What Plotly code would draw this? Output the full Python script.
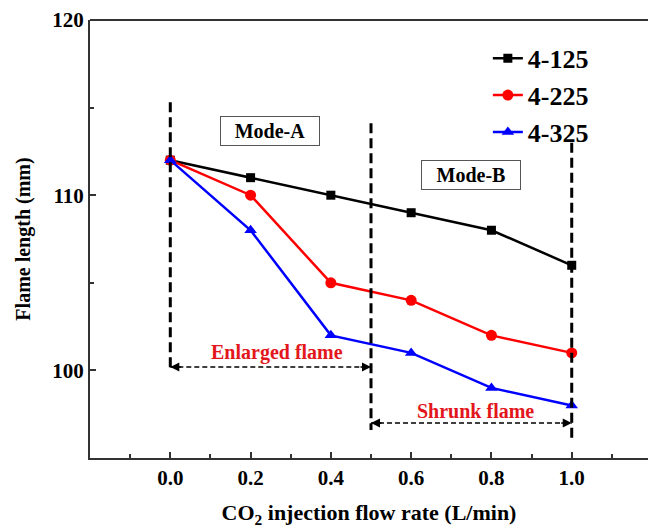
import plotly.graph_objects as go

flow = [0.0, 0.2, 0.4, 0.6, 0.8, 1.0]
s125 = [112, 111, 110, 109, 108, 106]
s225 = [112, 110, 105, 104, 102, 101]
s325 = [112, 108, 102, 101, 99, 98]
names = ["4-125", "4-225", "4-325"]
colors = ["#000000", "#ff0000", "#0000ff"]
symbols = ["square", "circle", "triangle-up"]
msizes = [9, 11, 11]

FONT = "Liberation Serif"
fig = go.Figure()
for i, ys in enumerate([s125, s225, s325]):
    fig.add_trace(go.Scatter(
        x=flow, y=ys, mode="lines+markers", name=names[i],
        line=dict(color=colors[i], width=2.5),
        marker=dict(symbol=symbols[i], size=msizes[i], color=colors[i]),
    ))

# vertical dashed dividers
vlines = [(0.0, 115.3, 100.0), (0.5, 114.1, 96.6), (1.0, 113.0, 96.1)]
for xv, y0, y1 in vlines:
    fig.add_shape(type="line", x0=xv, x1=xv, y0=y0, y1=y1, xref="x", yref="y",
                  line=dict(color="black", width=3, dash="10px,5px"))

# horizontal double arrows
harrows = [(0.0, 0.5, 100.2), (0.5, 1.0, 97.0)]
for xa, xb, yv in harrows:
    fig.add_shape(type="line", x0=xa, x1=xb, y0=yv, y1=yv, xref="x", yref="y",
                  line=dict(color="black", width=1.5, dash="5px,3px"))
    for tip, tail in [(xa, xa + 0.03), (xb, xb - 0.03)]:
        fig.add_annotation(x=tip, y=yv, ax=tail, ay=yv, xref="x", yref="y",
                           axref="x", ayref="y", text="", showarrow=True,
                           arrowhead=2, arrowsize=1.2, arrowwidth=1.5,
                           arrowcolor="black")

fig.add_annotation(x=0.265, y=101.0, text="<b>Enlarged flame</b>", showarrow=False,
                   font=dict(family=FONT, size=20, color="#e3161c"))
fig.add_annotation(x=0.76, y=97.7, text="<b>Shrunk flame</b>", showarrow=False,
                   font=dict(family=FONT, size=20, color="#e3161c"))
fig.add_annotation(x=0.2475, y=113.66, text="<b>Mode-A</b>", showarrow=False,
                   font=dict(family=FONT, size=20, color="black"),
                   bordercolor="#555555", borderwidth=1, borderpad=3,
                   bgcolor="white", width=92)
fig.add_annotation(x=0.75, y=111.14, text="<b>Mode-B</b>", showarrow=False,
                   font=dict(family=FONT, size=20, color="black"),
                   bordercolor="#555555", borderwidth=1, borderpad=3,
                   bgcolor="white", width=92)

fig.update_layout(
    width=648, height=528,
    margin=dict(l=90, r=0, t=20, b=70),
    plot_bgcolor="white", paper_bgcolor="white",
    font=dict(family=FONT, size=20, color="black"),
    legend=dict(x=0.713, y=0.966, xanchor="left", yanchor="top",
                font=dict(family=FONT, size=26, color="black", weight="bold"),
                bgcolor="rgba(0,0,0,0)"),
    showlegend=True,
)
fig.update_xaxes(
    range=[-0.2, 1.19], tickvals=[0.0, 0.2, 0.4, 0.6, 0.8, 1.0],
    ticktext=["0.0", "0.2", "0.4", "0.6", "0.8", "1.0"],
    ticks="inside", ticklen=6, tickwidth=1.5, tickcolor="#333",
    minor=dict(tickvals=[-0.1, 0.1, 0.3, 0.5, 0.7, 0.9, 1.1], ticks="inside",
               ticklen=4, tickcolor="#333", tickwidth=1.5),
    showline=True, linecolor="#333", linewidth=2, mirror=False,
    showgrid=False, zeroline=False,
    tickfont=dict(family=FONT, size=21, weight="bold"),
    title=dict(text="<b>CO<sub>2</sub> injection flow rate (L/min)</b>",
               font=dict(family=FONT, size=22), standoff=16),
)
fig.update_yaxes(
    range=[95, 120], tickvals=[100, 110, 120],
    ticks="inside", ticklen=6, tickwidth=1.5, tickcolor="#333",
    minor=dict(tickvals=[105, 115], ticks="inside", ticklen=4,
               tickcolor="#333", tickwidth=1.5),
    showline=True, linecolor="#333", linewidth=2,
    showgrid=False, zeroline=False,
    tickfont=dict(family=FONT, size=21, weight="bold"),
    title=dict(text="<b>Flame length (mm)</b>", font=dict(family=FONT, size=20),
               standoff=16),
)
# top border line
fig.add_shape(type="line", xref="paper", yref="paper", x0=0, x1=1, y0=1, y1=1,
              line=dict(color="#333", width=2))

fig.write_html("out.html")
